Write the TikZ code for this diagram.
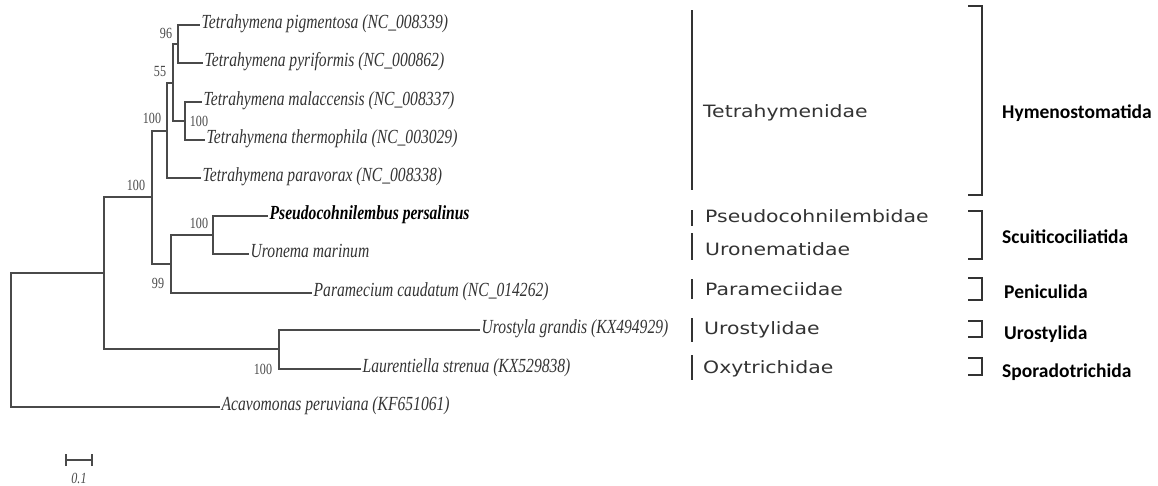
\documentclass[tikz,border=0pt]{standalone}
\usepackage{fontspec}
\setmainfont{Liberation Serif}
\newfontfamily\leaffont[FakeStretch=0.78]{Liberation Serif}
\newfontfamily\famfont[FakeStretch=1.2]{DejaVu Sans}
\newfontfamily\ordfont{Carlito}
\usetikzlibrary{positioning}
\definecolor{treegray}{HTML}{4A4A4A}
\definecolor{textgray}{HTML}{333333}
\tikzset{
  treeline/.style={draw=treegray, line width=1.3pt},
  leaflabel/.style={anchor=west, inner sep=1.5pt, text height=0.7em, text depth=0pt, text=textgray, font=\leaffont\itshape\fontsize{20}{24}\selectfont},
  bootlabel/.style={inner sep=0pt, text=treegray, font=\leaffont\fontsize{15.5}{18}\selectfont},
  fambar/.style={draw=black!80, line width=1.6pt},
  famlabel/.style={anchor=west, inner sep=0pt, text=textgray, font=\famfont\fontsize{17}{20}\selectfont},
  ordbracket/.style={draw=black!80, line width=1.6pt},
  ordlabel/.style={anchor=west, inner sep=0pt, font=\ordfont\bfseries\fontsize{19.5}{23}\selectfont}
}

\begin{document}
\begin{tikzpicture}[x=1pt, y=-1pt]
  \useasboundingbox (0,0) rectangle (1158,485);

  \coordinate (root) at (11,340);
  \coordinate (n100f) at (104,273);
  \coordinate (n100c) at (152,197);
  \coordinate (n100b) at (167,131);
  \coordinate (n55) at (173,83);
  \coordinate (n96) at (178,44);
  \coordinate (n100a) at (185,121);
  \coordinate (n99) at (171,264);
  \coordinate (n100d) at (213,235);
  \coordinate (n100e) at (279,349);

  \node[leaflabel] (pig) at (200,25) {Tetrahymena pigmentosa (NC\_008339)};
  \node[leaflabel] (pyr) at (203,63) {Tetrahymena pyriformis (NC\_000862)};
  \node[leaflabel] (mal) at (202,102) {Tetrahymena malaccensis (NC\_008337)};
  \node[leaflabel] (the) at (205,140) {Tetrahymena thermophila (NC\_003029)};
  \node[leaflabel] (par) at (201,178) {Tetrahymena paravorax (NC\_008338)};
  \node[leaflabel, font=\leaffont\bfseries\itshape\fontsize{20}{24}\selectfont, text=black] (pse) at (268,216) {Pseudocohnilembus persalinus};
  \node[leaflabel] (uro) at (249,254) {Uronema marinum};
  \node[leaflabel] (pam) at (312,293) {Paramecium caudatum (NC\_014262)};
  \node[leaflabel] (usg) at (480,330) {Urostyla grandis (KX494929)};
  \node[leaflabel] (lau) at (361,369) {Laurentiella strenua (KX529838)};
  \node[leaflabel] (aca) at (220,407) {Acavomonas peruviana (KF651061)};

  \draw[treeline] (n96) |- (pig.west);
  \draw[treeline] (n96) |- (pyr.west);
  \draw[treeline] (n100a) |- (mal.west);
  \draw[treeline] (n100a) |- (the.west);
  \draw[treeline] (n55) |- (n96);
  \draw[treeline] (n55) |- (n100a);
  \draw[treeline] (n100b) |- (n55);
  \draw[treeline] (n100b) |- (par.west);
  \draw[treeline] (n100d) |- (pse.west);
  \draw[treeline] (n100d) |- (uro.west);
  \draw[treeline] (n99) |- (n100d);
  \draw[treeline] (n99) |- (pam.west);
  \draw[treeline] (n100c) |- (n100b);
  \draw[treeline] (n100c) |- (n99);
  \draw[treeline] (n100e) |- (usg.west);
  \draw[treeline] (n100e) |- (lau.west);
  \draw[treeline] (n100f) |- (n100c);
  \draw[treeline] (n100f) |- (n100e);
  \draw[treeline] (root) |- (n100f);
  \draw[treeline] (root) |- (aca.west);

  \node[bootlabel] (b96) at (166,33) {96};
  \node[bootlabel] (b55) at (160,71) {55};
  \node[bootlabel] (b100b) at (152,118) {100};
  \node[bootlabel] (b100a) at (199,121) {100};
  \node[bootlabel] (b100c) at (136,185) {100};
  \node[bootlabel] (b100d) at (199,223) {100};
  \node[bootlabel] (b99) at (158,283) {99};
  \node[bootlabel] (b100e) at (263,369) {100};

  \coordinate (sbl) at (66,460);
  \coordinate (sbr) at (92,460);
  \draw[treeline] (sbl) -- (sbr);
  \draw[treeline] ([yshift=-6pt]sbl) -- ([yshift=6pt]sbl);
  \draw[treeline] ([yshift=-6pt]sbr) -- ([yshift=6pt]sbr);
  \node[bootlabel, font=\leaffont\itshape\fontsize{15.5}{18}\selectfont] (sbt) at (79,478) {0.1};

  \draw[fambar] (692,10) -- (692,190);
  \draw[fambar] (692,210) -- (692,226);
  \draw[fambar] (692,233) -- (692,260);
  \draw[fambar] (692,279) -- (692,299);
  \draw[fambar] (692,318) -- (692,342);
  \draw[fambar] (692,355) -- (692,380);
  \node[famlabel] (tetf) at (703,113) {Tetrahymenidae};
  \node[famlabel] (psef) at (705,216) {Pseudocohnilembidae};
  \node[famlabel] (urof) at (705,249) {Uronematidae};
  \node[famlabel] (parf) at (705,289) {Parameciidae};
  \node[famlabel] (usgf) at (704,330) {Urostylidae};
  \node[famlabel] (oxyf) at (703,369) {Oxytrichidae};

  \draw[ordbracket] (968,6) -- (982,6) -- (982,195) -- (968,195);
  \draw[ordbracket] (968,211) -- (982,211) -- (982,259) -- (968,259);
  \draw[ordbracket] (968,278) -- (982,278) -- (982,300) -- (968,300);
  \draw[ordbracket] (968,321) -- (982,321) -- (982,337) -- (968,337);
  \draw[ordbracket] (968,358) -- (982,358) -- (982,375) -- (968,375);
  \node[ordlabel] (hymo) at (1002,113) {Hymenostomatida};
  \node[ordlabel] (scuo) at (1002,237) {Scuiticociliatida};
  \node[ordlabel] (peno) at (1004,292) {Peniculida};
  \node[ordlabel] (uroo) at (1004,334) {Urostylida};
  \node[ordlabel] (spoo) at (1002,372) {Sporadotrichida};
\end{tikzpicture}
\end{document}
